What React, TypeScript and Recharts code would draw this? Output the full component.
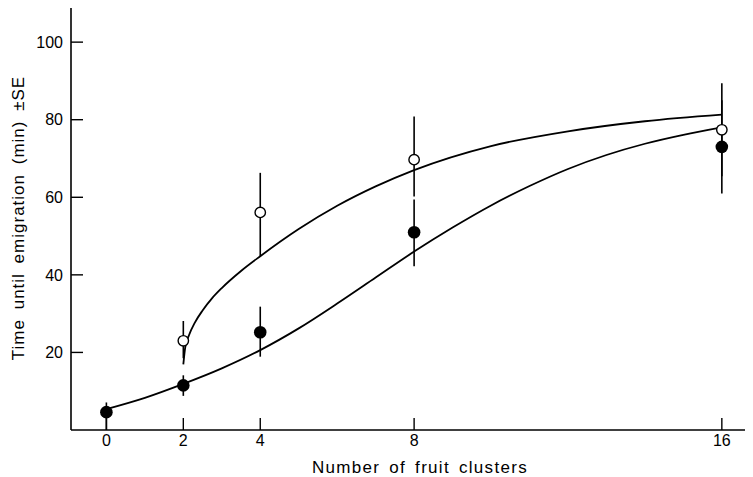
import React from 'react';
import { ComposedChart, Line, Scatter, XAxis, YAxis, ErrorBar } from 'recharts';

// number of fruit clusters
const clusters = [0, 2, 4, 8, 16];
const openClusters = [2, 4, 8, 16];

// filled circles: mean time until emigration (min), SE below / above
const filledMean = [4.6, 11.5, 25.2, 51.0, 73.0];
const filledSeLow = [4.6, 2.7, 6.3, 8.8, 12.0];
const filledSeHigh = [2.5, 2.6, 6.6, 8.4, 12.0];

// open circles
const openMean = [23.0, 56.1, 69.7, 77.4];
const openSeLow = [4.5, 11.3, 9.5, 12.0];
const openSeHigh = [5.1, 10.2, 11.1, 12.0];

// fitted curves
const upperX = [2, 2.05, 2.15, 2.3, 2.5, 2.75, 3, 3.5, 4, 5, 6, 7, 8, 10, 12, 14, 16];
const upperY = [16.9, 21.3, 24.5, 27.7, 30.8, 34.0, 36.6, 41.0, 44.8, 51.8, 57.8, 62.8, 67.0, 73.2, 77.0, 79.6, 81.3];
const lowerX = [0, 1, 2, 3, 4, 5, 6, 7, 8, 9, 10, 11, 12, 13, 14, 15, 16];
const lowerY = [5.4, 8.3, 11.9, 15.9, 20.6, 26.2, 32.6, 39.3, 46.0, 52.2, 57.9, 62.9, 67.3, 70.9, 73.8, 76.1, 78.0];

const xTicks = [0, 2, 4, 8, 16];
const yTicks = [20, 40, 60, 80, 100];

const filledData = clusters.map((x, i) => ({
  x,
  y: filledMean[i],
  se: [filledSeLow[i], filledSeHigh[i]],
}));
const openData = openClusters.map((x, i) => ({
  x,
  y: openMean[i],
  se: [openSeLow[i], openSeHigh[i]],
}));
const upperCurve = upperX.map((x, i) => ({ x, y: upperY[i] }));
const lowerCurve = lowerX.map((x, i) => ({ x, y: lowerY[i] }));

const font = '"Liberation Sans", Arial, sans-serif';

const FilledDot = (props: any) => <circle cx={props.cx} cy={props.cy} r={6.3} fill="#000" />;
const OpenDot = (props: any) => (
  <circle cx={props.cx} cy={props.cy} r={5.2} fill="#fff" stroke="#000" strokeWidth={1.4} />
);

export default function App() {
  return (
    <div style={{ width: 745, height: 469, background: '#fff' }}>
      <ComposedChart
        width={745}
        height={469}
        margin={{ top: 0, right: 0, left: 0, bottom: 0 }}
        style={{ fontFamily: font }}
      >
        <XAxis
          dataKey="x"
          type="number"
          domain={[-0.92, 16.81]}
          allowDataOverflow
          ticks={xTicks}
          height={47}
          tickSize={-12}
          tickMargin={17}
          axisLine={{ stroke: '#000', strokeWidth: 1.6 }}
          tickLine={{ stroke: '#000', strokeWidth: 1.4 }}
          tick={{ fontSize: 16, fill: '#000', fontFamily: font }}
          label={{
            content: () => (
              <text
                x={412}
                y={465}
                textAnchor="middle"
                fontSize={17}
                fontFamily={font}
                letterSpacing={1.3}
                wordSpacing={3}
                fill="#000"
              >
                Number of fruit clusters
              </text>
            ),
          }}
        />
        <YAxis
          dataKey="y"
          type="number"
          domain={[0, 108.8]}
          allowDataOverflow
          ticks={yTicks}
          width={63}
          tickSize={-12}
          tickMargin={20}
          axisLine={{ stroke: '#000', strokeWidth: 1.6 }}
          tickLine={{ stroke: '#000', strokeWidth: 1.4 }}
          tick={{ fontSize: 16, fill: '#000', fontFamily: font }}
          label={{
            content: () => (
              <text
                x={10}
                y={210}
                transform="rotate(-90 10 210)"
                textAnchor="middle"
                dominantBaseline="central"
                fontSize={17}
                fontFamily={font}
                letterSpacing={1.0}
                wordSpacing={4}
                fill="#000"
              >
                Time until emigration (min) ±SE
              </text>
            ),
          }}
        />
        <Line
          data={upperCurve}
          dataKey="y"
          type="monotone"
          stroke="#000"
          strokeWidth={1.8}
          dot={false}
          activeDot={false}
          isAnimationActive={false}
        />
        <Line
          data={lowerCurve}
          dataKey="y"
          type="monotone"
          stroke="#000"
          strokeWidth={1.8}
          dot={false}
          activeDot={false}
          isAnimationActive={false}
        />
        <Scatter data={filledData} dataKey="y" shape={FilledDot} isAnimationActive={false}>
          <ErrorBar dataKey="se" direction="y" width={0} stroke="#000" strokeWidth={1.6} />
        </Scatter>
        <Scatter data={openData} dataKey="y" shape={OpenDot} isAnimationActive={false}>
          <ErrorBar dataKey="se" direction="y" width={0} stroke="#000" strokeWidth={1.6} />
        </Scatter>
      </ComposedChart>
    </div>
  );
}
